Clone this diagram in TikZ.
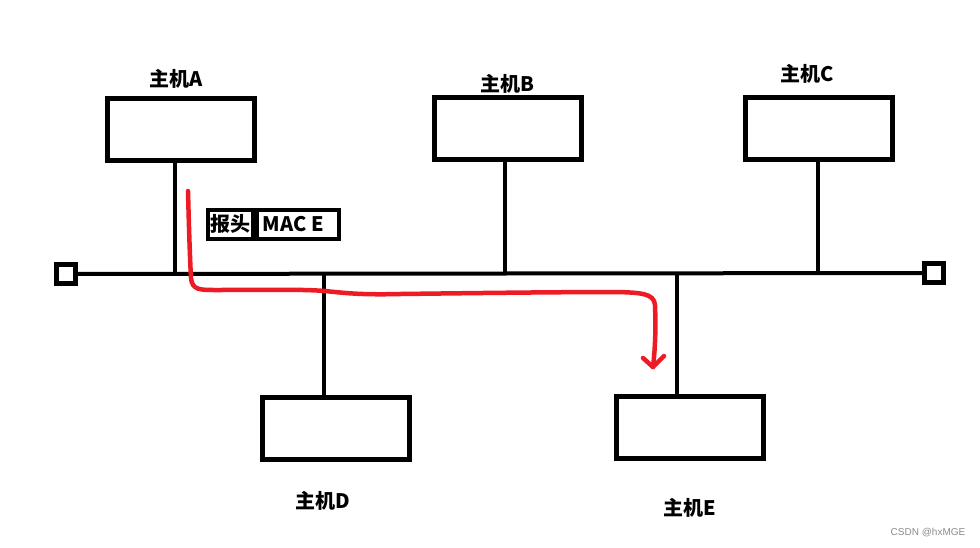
\documentclass[tikz,border=0pt]{standalone}
\usepackage{fontspec}
\newfontfamily\cjk{Noto Sans CJK SC}
\newfontfamily\wmfont{Liberation Sans}
\usetikzlibrary{calc}
\definecolor{pathred}{RGB}{237,28,36}
\begin{document}
\begin{tikzpicture}[x=1pt,y=-1pt,
  host/.style={draw=black,line width=5pt,fill=white,minimum width=147pt,minimum height=62pt,inner sep=0pt},
  term/.style={draw=black,line width=4.5pt,fill=white,minimum size=19pt,inner sep=0pt},
  wire/.style={line width=4pt,black},
  lbl/.style={font=\cjk\bfseries\fontsize{20}{22}\selectfont,inner sep=0pt},
  hdr/.style={draw=black,line width=4pt,fill=white,inner sep=0pt,minimum height=29pt,font=\cjk\bfseries\fontsize{20}{22}\selectfont},
  redpath/.style={draw=pathred,line width=4.5pt,line cap=round,line join=round}]
\useasboundingbox (0,0) rectangle (980,547);
\fill[white] (0,0) rectangle (980,547);
% hosts
\node[host] (A) at (181,129) {};
\node[host] (B) at (508,128) {};
\node[host] (C) at (819,128) {};
\node[host] (D) at (336,428.5) {};
\node[host] (E) at (689.5,427.5) {};
% labels
\node[lbl] (lA) at (176,79) {主机A};
\node[lbl] (lB) at (507,84) {主机B};
\node[lbl] (lC) at (807,74) {主机C};
\node[lbl] (lD) at (323,501) {主机D};
\node[lbl] (lE) at (690,508) {主机E};
% terminators
\node[term] (tL) at (66,274) {};
\node[term] (tR) at (934,273) {};
% bus
\draw[wire] (tL) -- (tR);
% taps
\coordinate (tapA) at (175,273.5);
\coordinate (tapB) at (505,273.5);
\coordinate (tapC) at (818,273.5);
\coordinate (tapD) at (324,273.5);
\coordinate (tapE) at (677,273.5);
\draw[wire] (tapA |- A.south) -- (tapA);
\draw[wire] (tapB |- B.south) -- (tapB);
\draw[wire] (tapC |- C.south) -- (tapC);
\draw[wire] (tapD) -- (tapD |- D.north);
\draw[wire] (tapE) -- (tapE |- E.north);
% header box
\node[hdr,minimum width=45pt] (h1) at (230,224) {报头};
\node[hdr,minimum width=82pt,anchor=west] (h2) at (h1.east) {\hspace*{-8pt}MAC E};
% red path
\coordinate (rs) at (188,191);
\coordinate (re) at (653,367);
\draw[redpath] (rs) .. controls (189,230) and (190,260) .. (191,278)
  .. controls (192,290) and (200,290) .. (215,290)
  .. controls (260,290) and (300,289) .. (325,291)
  .. controls (345,293) and (360,295) .. (400,294)
  .. controls (480,293) and (560,292) .. (620,292)
  .. controls (640,293) and (654,293) .. (655,305)
  .. controls (656,330) and (655,350) .. (re);
\draw[redpath] (643,358) -- (re) -- (664,356);
% watermark
\node[font=\wmfont\fontsize{10}{11}\selectfont,text=black!45,inner sep=0pt] (wm) at (928,533) {CSDN @hxMGE};
\end{tikzpicture}
\end{document}
